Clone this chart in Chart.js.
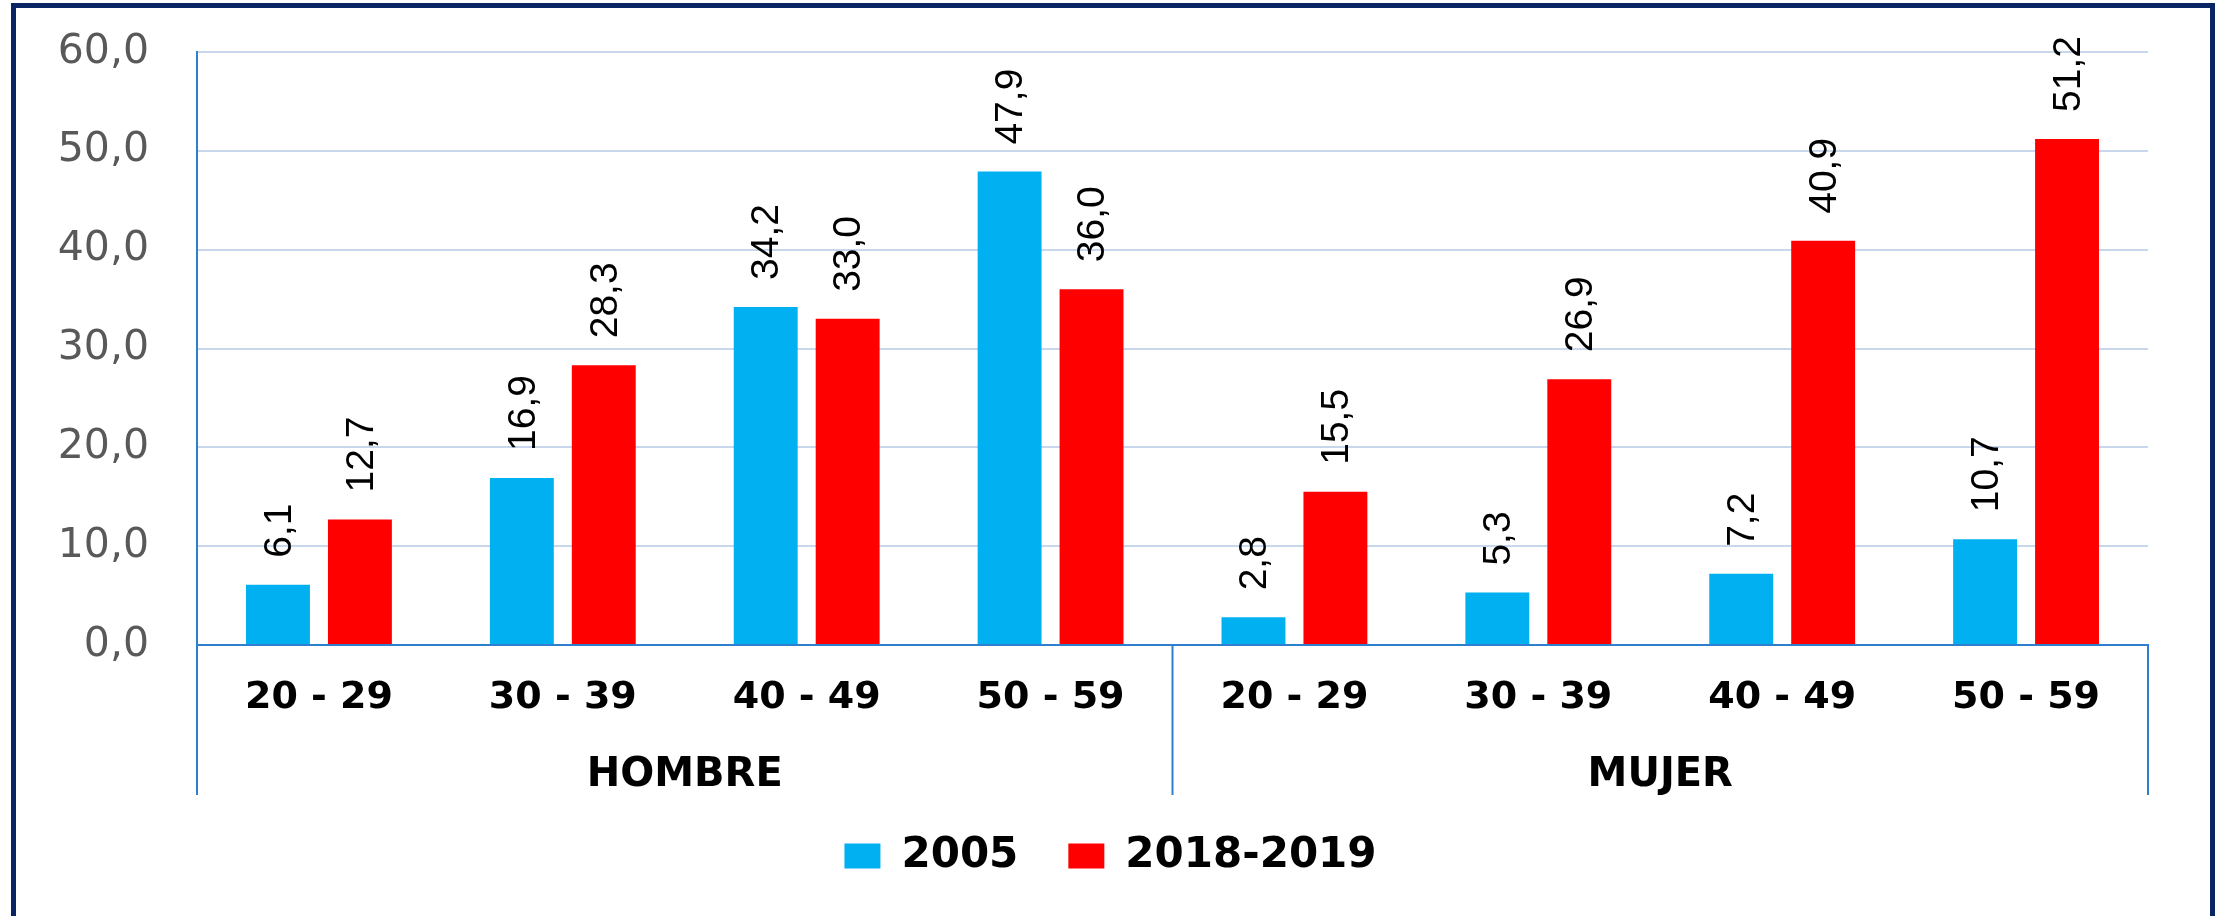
<!DOCTYPE html>
<html lang="es">
<head>
<meta charset="utf-8">
<title>Prevalencia por edad y sexo</title>
<script src="https://cdn.jsdelivr.net/npm/chart.js@4/dist/chart.umd.min.js"></script>
<style>
  body { margin: 0; background: #fff; overflow: hidden; }
  #marco {
    position: absolute; left: 11px; top: 3px;
    width: 2204px; height: 1000px;
    box-sizing: border-box; border: 5px solid #0a2563;
  }
  #grafico { position: absolute; left: 0; top: 0; }
</style>
</head>
<body>
<div id="marco"></div>
<canvas id="grafico" width="2221" height="916"></canvas>
<script>
// datos
const edades = ["20 - 29", "30 - 39", "40 - 49", "50 - 59"];
const grupos = ["HOMBRE", "MUJER"];
const etiquetas = [...edades, ...edades];
const serie2005 = [6.1, 16.9, 34.2, 47.9, 2.8, 5.3, 7.2, 10.7];
const serie2018 = [12.7, 28.3, 33.0, 36.0, 15.5, 26.9, 40.9, 51.2];
const nombresSeries = ["2005", "2018-2019"];
const coloresSeries = ["#00b0f0", "#ff0000"];

const azulEje = "#2f7fcf";
const formato = (v) => v.toFixed(1).replace(".", ",");

// etiquetas de valor giradas sobre cada barra
const etiquetasValor = {
  id: "etiquetasValor",
  afterDatasetsDraw(chart) {
    const ctx = chart.ctx;
    ctx.save();
    ctx.fillStyle = "#000";
    ctx.font = "39px 'Liberation Sans'";
    ctx.textAlign = "left";
    ctx.textBaseline = "middle";
    chart.data.datasets.forEach((ds, i) => {
      chart.getDatasetMeta(i).data.forEach((barra, j) => {
        ctx.save();
        ctx.translate(barra.x + 2, barra.y - 27);
        ctx.rotate(-Math.PI / 2);
        ctx.fillText(formato(ds.data[j]), 0, 0);
        ctx.restore();
      });
    });
    ctx.restore();
  },
};

// segundo nivel del eje x: HOMBRE / MUJER con sus separadores
const ejeGrupos = {
  id: "ejeGrupos",
  afterDraw(chart) {
    const x = chart.scales.x;
    const ctx = chart.ctx;
    const porGrupo = edades.length;
    const fondo = x.top + 150;
    ctx.save();
    ctx.strokeStyle = azulEje;
    ctx.lineWidth = 2;
    for (let g = 0; g <= grupos.length; g++) {
      const px = x.getPixelForValue(g * porGrupo - 0.5);
      ctx.beginPath();
      ctx.moveTo(px, x.top);
      ctx.lineTo(px, fondo);
      ctx.stroke();
    }
    ctx.fillStyle = "#000";
    ctx.font = "bold 40px 'DejaVu Sans'";
    ctx.textAlign = "center";
    ctx.textBaseline = "middle";
    grupos.forEach((nombre, g) => {
      const a = x.getPixelForValue(g * porGrupo - 0.5);
      const b = x.getPixelForValue((g + 1) * porGrupo - 0.5);
      ctx.fillText(nombre, (a + b) / 2, x.top + 131);
    });
    ctx.restore();
  },
};

const ctx = document.getElementById("grafico").getContext("2d");
new Chart(ctx, {
  type: "bar",
  data: {
    labels: etiquetas,
    datasets: [
      {
        label: nombresSeries[0],
        data: serie2005,
        backgroundColor: coloresSeries[0],
        categoryPercentage: 0.672,
        barPercentage: 0.78,
      },
      {
        label: nombresSeries[1],
        data: serie2018,
        backgroundColor: coloresSeries[1],
        categoryPercentage: 0.672,
        barPercentage: 0.78,
      },
    ],
  },
  options: {
    responsive: false,
    animation: false,
    devicePixelRatio: 1,
    layout: {
      padding: { left: 0, right: 0, top: 52, bottom: 29 },
    },
    plugins: {
      legend: {
        position: "bottom",
        labels: {
          color: "#000",
          font: { family: "'DejaVu Sans'", size: 42, weight: "bold" },
          boxWidth: 36,
          boxHeight: 25,
          padding: 50,
        },
      },
      tooltip: { enabled: false },
    },
    scales: {
      x: {
        afterFit: (s) => {
          s.height = 140;
          s.paddingLeft = 0;
          s.paddingRight = 73;
        },
        grid: { display: false },
        border: { color: azulEje, width: 2 },
        ticks: {
          color: "#000",
          padding: 22,
          maxRotation: 0,
          autoSkip: false,
          font: { family: "'DejaVu Sans'", size: 38, weight: "bold" },
        },
      },
      y: {
        min: 0,
        max: 60,
        afterFit: (s) => {
          s.width = 197;
          s.paddingTop = 0;
          s.paddingBottom = 0;
        },
        grid: { color: "#c8d7ec", lineWidth: 2, drawTicks: false },
        border: { color: azulEje, width: 2 },
        ticks: {
          stepSize: 10,
          padding: 48,
          color: "#595959",
          font: { family: "'DejaVu Sans'", size: 41 },
          callback: (v) => formato(v),
        },
      },
    },
  },
  plugins: [etiquetasValor, ejeGrupos],
});
</script>
</body>
</html>
